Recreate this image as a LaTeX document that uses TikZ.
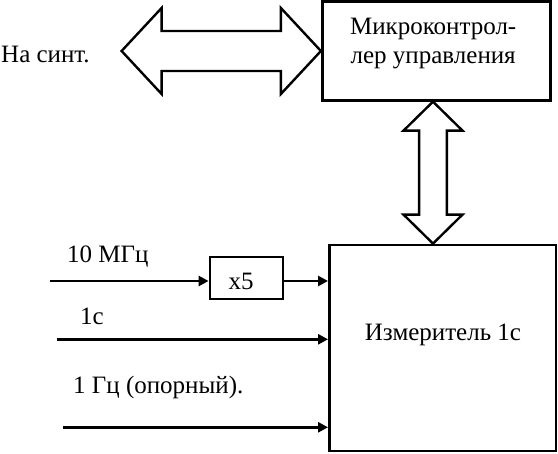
\documentclass[tikz,border=0pt]{standalone}
\usepackage{fontspec}
\setmainfont{Liberation Serif}
\usetikzlibrary{arrows.meta,calc}
\begin{document}
\begin{tikzpicture}[x=1pt,y=-1pt,
  every node/.style={font=\fontsize{25}{29}\selectfont, inner sep=0pt},
  blk/.style={draw, line width=2.8pt, rectangle},
  sig/.style={line width=2.8pt, -{Triangle[length=10pt,width=10pt]}},
  dbl/.style={draw, line width=2.4pt, line join=miter, fill=white},
  lbl/.style={anchor=base west}]
\useasboundingbox (0,0) rectangle (558,454);
% blocks
\node[blk, minimum width=228pt, minimum height=98.5pt] (mc) at (436.3,51) {};
\node[align=center] (mctxt) at (433.2,44) {Микроконтрол-\\лер управления};
\node[blk, minimum width=226.5pt, minimum height=206pt] (ms) at (442.7,348) {};
\node[anchor=base] (mstxt) at (443,341) {Измеритель 1с};
\node[blk, minimum width=73pt, minimum height=42pt] (x5) at (246.5,278) {};
\node[anchor=base] (x5txt) at (241,290) {x5};
% horizontal double arrow
\node[lbl] (syn) at (1,63) {На синт.};
\draw[dbl] (mc.west) -- ++(-40,-43) -- ++(0,23) -- ++(-119.3,0) -- ++(0,-23)
  -- ++(-40,43) -- ++(40,43) -- ++(0,-23) -- ++(119.3,0) -- ++(0,23) -- cycle;
% vertical double arrow
\coordinate (vt) at (433,0 |- mc.south);
\coordinate (vb) at (433,0 |- ms.north);
\draw[dbl] (vt) -- ++(29.5,29) -- ++(-15.65,0) -- ($(vb)+(13.85,-29)$)
  -- ($(vb)+(29.5,-29)$) -- (vb) -- ($(vb)+(-29.5,-29)$) -- ($(vb)+(-13.85,-29)$)
  -- ($(vt)+(-13.85,29)$) -- ($(vt)+(-29.5,29)$) -- cycle;
% inputs
\coordinate (in1) at (50,281);
\coordinate (in2) at (56.7,339.3);
\coordinate (in3) at (63,427.3);
\draw[sig] (in1) -- (in1 -| x5.west);
\draw[sig] (in1 -| x5.east) -- (in1 -| ms.west);
\draw[sig] (in2) -- (in2 -| ms.west);
\draw[sig] (in3) -- (in3 -| ms.west);
\node[lbl] (l1) at (67,262.7) {10 МГц};
\node[lbl] (l2) at (80,325) {1с};
\node[lbl] (l3) at (73,394) {1 Гц (опорный).};
\end{tikzpicture}
\end{document}
